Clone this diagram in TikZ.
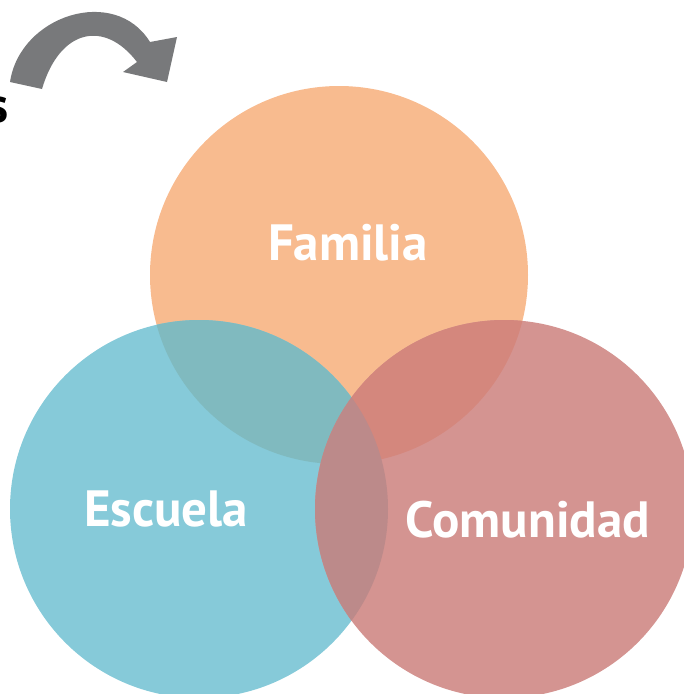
\documentclass[tikz,border=0pt]{standalone}
\usepackage{fontspec}
\setmainfont{PT Sans}
\definecolor{cOr}{HTML}{F8BB8F}
\definecolor{cBl}{HTML}{86CAD9}
\definecolor{cRd}{HTML}{D49491}
\definecolor{cOB}{HTML}{80BABF}
\definecolor{cOR}{HTML}{D4877D}
\definecolor{cBR}{HTML}{BC8A8A}
\definecolor{cArr}{HTML}{78797B}
\tikzset{
  lbl/.style={text=white, font=\fontsize{51}{60}\selectfont\bfseries, inner sep=0pt, anchor=base},
}
\begin{document}
\begin{tikzpicture}[x=1pt,y=-1pt]
\useasboundingbox (0,0) rectangle (684,694);
\clip (0,0) rectangle (684,694);
\def\R{189}
\coordinate (cF) at (339,275);
\coordinate (cE) at (199,509);
\coordinate (cC) at (504,509);
% base circles
\fill[cOr] (cF) circle (\R);
\fill[cBl] (cE) circle (\R);
\fill[cRd] (cC) circle (\R);
% overlaps
\begin{scope}
  \clip (cF) circle (\R);
  \fill[cOB] (cE) circle (\R);
\end{scope}
\begin{scope}
  \clip (cF) circle (\R);
  \fill[cOR] (cC) circle (\R);
\end{scope}
\begin{scope}
  \clip (cE) circle (\R);
  \fill[cBR] (cC) circle (\R);
\end{scope}
% labels
\node[lbl] (famila) at (348,260) {Familia};
\node[lbl] (escuela) at (166,526) {Escuela};
\node[lbl] (comunidad) at (528,537) {Comunidad};
% partial text
\node[anchor=base east, inner sep=0pt, font=\fontsize{50}{60}\selectfont\bfseries] (s) at (9,122) {s};
% arrow
\fill[cArr] (10,82) .. controls (20,15) and (115,-15) .. (150,42) -- (177,37) -- (167,82) -- (123,72) -- (137,62) .. controls (105,20) and (60,28) .. (42,89) -- cycle;
\end{tikzpicture}
\end{document}
